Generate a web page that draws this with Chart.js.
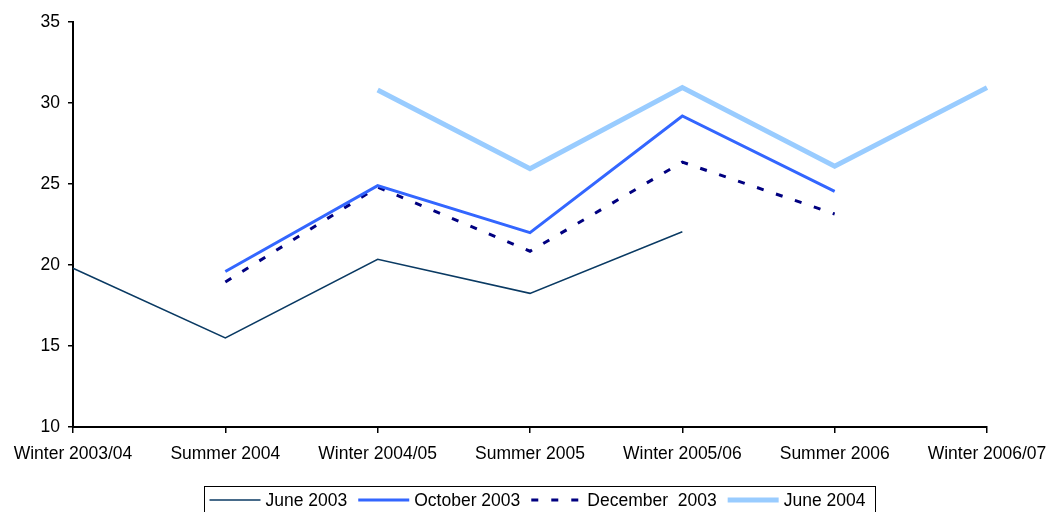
<!DOCTYPE html>
<html>
<head>
<meta charset="utf-8">
<script src="https://cdn.jsdelivr.net/npm/chart.js@4.4.0/dist/chart.umd.min.js"></script>
<style>
  html, body { margin: 0; padding: 0; background: #fff; overflow: hidden; }
  #wrap { width: 1047px; height: 512px; position: relative; }
</style>
</head>
<body>
<div id="wrap"><canvas id="c" width="1047" height="512"></canvas></div>
<script>
// Season labels along the x axis
const categories = ['Winter 2003/04', 'Summer 2004', 'Winter 2004/05', 'Summer 2005', 'Winter 2005/06', 'Summer 2006', 'Winter 2006/07'];

// Forecast vintages (null where a vintage has no value for that season)
const june2003     = [19.8, 15.5, 20.35, 18.25, 22.05, null, null];
const october2003  = [null, 19.6, 24.9, 22.0, 29.2, 24.55, null];
const december2003 = [null, 18.95, 24.8, 20.85, 26.35, 23.15, null];
const june2004     = [null, null, 30.8, 25.95, 30.95, 26.1, 30.95];

// Value axis ticks
const yTicks = [10, 15, 20, 25, 30, 35];

const FONT_FAMILY = '"Liberation Sans", Arial, sans-serif';
const FONT_SIZE = 17.5;

// Framed legend row below the axis, drawn from the datasets' own styles
const boxLegend = {
  id: 'boxLegend',
  afterDraw(chart) {
    const ctx = chart.ctx;
    ctx.save();
    ctx.font = FONT_SIZE + 'px ' + FONT_FAMILY;
    const lineLen = 51, gapText = 5, gapItem = 11, padL = 5, padR = 10;
    const items = chart.data.datasets.map(ds => ({ ds, w: ctx.measureText(ds.label).width }));
    let total = padL + padR;
    items.forEach((it, i) => {
      total += lineLen + gapText + it.w + (i < items.length - 1 ? gapItem : 0);
    });
    const cx = chart.width / 2 + 16;
    const left = Math.round(cx - total / 2) + 0.5;
    const top = 486.5;
    ctx.strokeStyle = '#000';
    ctx.lineWidth = 1;
    ctx.strokeRect(left, top, Math.round(total), 40);

    let x = left + padL;
    const y = 500;
    items.forEach(it => {
      const ds = it.ds;
      ctx.save();
      ctx.strokeStyle = ds.borderColor;
      ctx.lineWidth = ds.borderWidth;
      ctx.lineCap = 'butt';
      ctx.setLineDash(ds.borderDash || []);
      ctx.beginPath();
      ctx.moveTo(x, y);
      ctx.lineTo(x + lineLen, y);
      ctx.stroke();
      ctx.restore();
      x += lineLen + gapText;
      ctx.fillStyle = '#000';
      ctx.textBaseline = 'middle';
      ctx.textAlign = 'left';
      ctx.fillText(ds.label, x, y + 1);
      x += it.w + gapItem;
    });
    ctx.restore();
  }
};

new Chart(document.getElementById('c'), {
  type: 'line',
  data: {
    labels: categories,
    datasets: [
      { label: 'June 2003', data: june2003, borderColor: '#0a3a63', borderWidth: 1.5, pointRadius: 0, tension: 0, spanGaps: false },
      { label: 'October 2003', data: october2003, borderColor: '#3366ff', borderWidth: 3, pointRadius: 0, tension: 0, spanGaps: false },
      { label: 'December  2003', data: december2003, borderColor: '#000080', borderWidth: 3, borderDash: [7, 13], pointRadius: 0, tension: 0, spanGaps: false },
      { label: 'June 2004', data: june2004, borderColor: '#99ccff', borderWidth: 5, pointRadius: 0, tension: 0, spanGaps: false }
    ]
  },
  options: {
    responsive: false,
    animation: false,
    devicePixelRatio: 1,
    layout: { padding: { top: 22, right: 0, bottom: 36, left: 0 } },
    plugins: {
      legend: { display: false },
      tooltip: { enabled: false }
    },
    scales: {
      x: {
        type: 'category',
        offset: false,
        afterFit(scale) { scale.paddingRight = 60; },
        grid: { display: true, drawOnChartArea: false, drawTicks: true, tickLength: 6, color: '#000', lineWidth: 1.5 },
        border: { display: true, color: '#000', width: 2 },
        ticks: { color: '#000', font: { family: FONT_FAMILY, size: FONT_SIZE }, padding: 11, maxRotation: 0, autoSkip: false }
      },
      y: {
        min: yTicks[0],
        max: yTicks[yTicks.length - 1],
        afterBuildTicks(scale) { scale.ticks = yTicks.map(v => ({ value: v })); },
        afterFit(scale) { scale.width = 73; },
        grid: { display: true, drawOnChartArea: false, drawTicks: true, tickLength: 5, color: '#000', lineWidth: 1.5 },
        border: { display: true, color: '#000', width: 2 },
        ticks: { color: '#000', font: { family: FONT_FAMILY, size: FONT_SIZE }, padding: 8 }
      }
    }
  },
  plugins: [boxLegend]
});
</script>
</body>
</html>
